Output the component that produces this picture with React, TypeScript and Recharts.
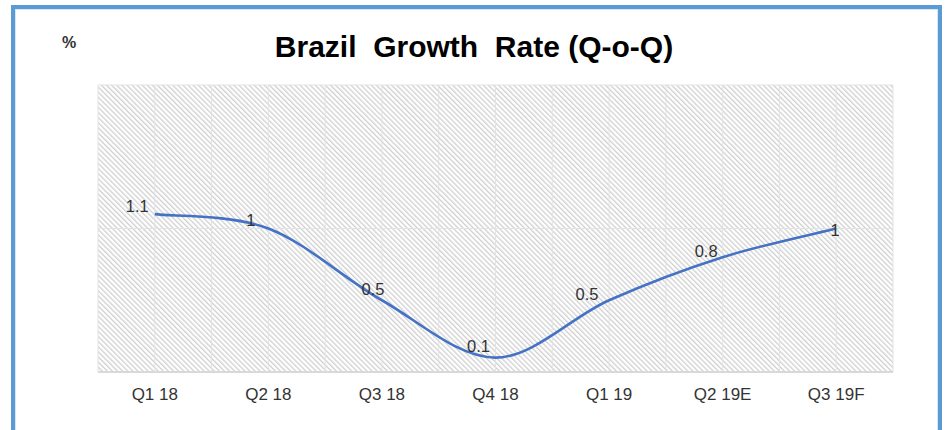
import React from "react";
import { LineChart, Line, XAxis, YAxis, CartesianGrid } from "recharts";

/** 분기 라벨 */
const quarters = ["Q1 18", "Q2 18", "Q3 18", "Q4 18", "Q1 19", "Q2 19E", "Q3 19F"];

/** 성장률 (%) */
const growth = [1.1, 1, 0.5, 0.1, 0.5, 0.8, 1];

/** y축 눈금 */
const yTicks = [0, 1, 2];

/** 데이터 라벨 위치 보정 (텍스트 중심 기준) */
const labelDx = [-17.5, -17.5, -9, -17, -22, -16.5, -1];
const labelDy = [-2, -3, -5, -6, 0, 0, 7];

const data = quarters.map((q, i) => ({ name: q, value: growth[i] }));

const FONT = "'Liberation Sans', Arial, sans-serif";

/**
 * 엑셀 스무딩 선과 비슷한 Catmull-Rom 곡선
 */
const excelCurve = (ctx: any) => {
  let pts: [number, number][] = [];
  return {
    areaStart() {},
    areaEnd() {},
    lineStart() {
      pts = [];
    },
    point(x: number, y: number) {
      pts.push([+x, +y]);
    },
    lineEnd() {
      if (!pts.length) return;
      ctx.moveTo(pts[0][0], pts[0][1]);
      for (let i = 0; i < pts.length - 1; i++) {
        const p0 = pts[i - 1] || pts[i];
        const p1 = pts[i];
        const p2 = pts[i + 1];
        const p3 = pts[i + 2] || p2;
        ctx.bezierCurveTo(
          p1[0] + (p2[0] - p0[0]) / 6,
          p1[1] + (p2[1] - p0[1]) / 6,
          p2[0] - (p3[0] - p1[0]) / 6,
          p2[1] - (p3[1] - p1[1]) / 6,
          p2[0],
          p2[1]
        );
      }
    },
  };
};

const renderLabel = (props: any) => {
  const { x, y, value, index } = props;
  return (
    <text
      key={`lbl-${index}`}
      x={x + labelDx[index]}
      y={y + labelDy[index]}
      textAnchor="middle"
      fontFamily={FONT}
      fontSize={16.5}
      fill="#333333"
    >
      {value}
    </text>
  );
};

export default function App() {
  return (
    <div style={{ position: "absolute", left: 0, top: 0, width: 949, height: 430, overflow: "hidden", background: "#fff" }}>
      {/* 바깥 테두리 */}
      <div
        style={{
          position: "absolute",
          left: 11,
          top: 5,
          width: 923,
          height: 480,
          border: "4px solid #5b9bd5",
          boxShadow: "inset 0 0 0 1px #d6e6f5",
        }}
      />
      <div style={{ position: "absolute", left: 0, top: 0 }}>
        <LineChart width={949} height={430} data={data} margin={{ top: 85, right: 56, left: 98, bottom: 28 }}>
          <defs>
            <pattern id="hatch" width={3.6} height={3.6} patternUnits="userSpaceOnUse" patternTransform="rotate(-45)">
              <rect x={0} y={0} width={3.6} height={3.6} fill="#ffffff" />
              <rect x={0} y={0} width={1.3} height={3.6} fill="#d0d0d0" />
            </pattern>
          </defs>
          <CartesianGrid
            fill="url(#hatch)"
            stroke="#e3e3e3"
            strokeWidth={1}
            verticalCoordinatesGenerator={({ offset }: any) =>
              Array.from({ length: quarters.length * 2 + 1 }, (_, i) => offset.left + (i * offset.width) / (quarters.length * 2))
            }
          />
          <XAxis
            dataKey="name"
            scale="band"
            height={30}
            axisLine={{ stroke: "#d9d9d9", strokeWidth: 2 }}
            tickLine={false}
            tickMargin={10}
            tick={{ fontFamily: FONT, fontSize: 17, fill: "#333333" }}
            interval={0}
          />
          <YAxis hide domain={[0, 2]} ticks={yTicks} />
          <Line
            dataKey="value"
            type={excelCurve as any}
            stroke="#4472c4"
            strokeWidth={2.6}
            dot={false}
            activeDot={false}
            label={renderLabel}
            isAnimationActive={false}
          />
        </LineChart>
      </div>
      {/* 제목과 단위 */}
      <svg width={949} height={430} style={{ position: "absolute", left: 0, top: 0, pointerEvents: "none" }}>
        <text x={474} y={57} textAnchor="middle" fontFamily={FONT} fontSize={30} fontWeight="bold" fill="#000" style={{ whiteSpace: "pre" }}>
          {"Brazil  Growth  Rate (Q-o-Q)"}
        </text>
        <text x={62} y={48} fontFamily={FONT} fontSize={16} fontWeight="bold" fill="#333333">
          %
        </text>
      </svg>
    </div>
  );
}
